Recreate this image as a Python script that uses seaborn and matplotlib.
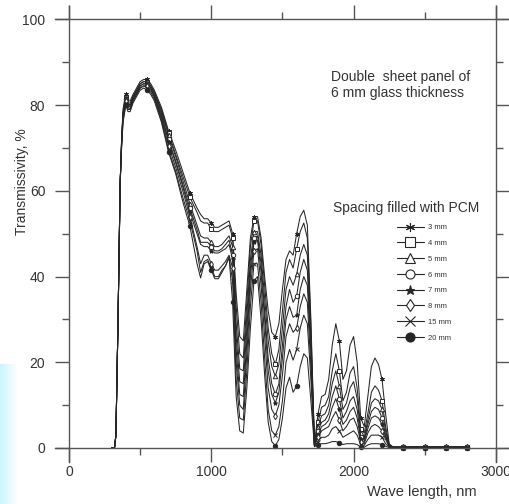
import numpy as np
import pandas as pd
import seaborn as sns
import matplotlib.pyplot as plt
from matplotlib.lines import Line2D
from matplotlib.ticker import MultipleLocator

# wavelength grid, nm
wl = [300, 320, 330, 345, 360, 370, 380, 390, 400, 415,
      430, 450, 475, 500, 525, 550, 575, 600, 650, 700,
      750, 800, 850, 900, 925, 950, 975, 1000, 1025, 1050,
      1075, 1100, 1125, 1150, 1175, 1200, 1225, 1250, 1275, 1300,
      1325, 1350, 1375, 1400, 1425, 1450, 1475, 1500, 1525, 1550,
      1575, 1600, 1625, 1650, 1675, 1700, 1725, 1750, 1775, 1800,
      1825, 1850, 1875, 1900, 1925, 1950, 1975, 2000, 2025, 2050,
      2075, 2100, 2125, 2150, 2175, 2200, 2225, 2250, 2275, 2300,
      2350, 2425, 2500, 2575, 2650, 2725, 2800]

# transmissivity, %
s3 = [0, 0, 3, 30, 62, 72, 79, 81, 82.5, 81,
      81, 82.5, 84, 85.5, 86, 86, 85, 83.5, 79.5, 74,
      69.5, 64.5, 59.5, 56, 54.5, 53.5, 53.5, 52.5, 51.5, 51.5,
      52, 52.5, 53, 50, 36, 26, 25, 37, 49, 54,
      54, 49, 40, 32, 27, 26, 29, 37, 44, 46,
      45, 50, 54, 55.5, 52, 30, 1, 8, 12, 12.5,
      16, 24, 29, 25, 16, 18, 24, 26, 20, 7,
      5, 12, 19, 21, 19.5, 16, 8, 1, 0.3, 0.2,
      0.2, 0.3, 0.2, 0.3, 0.2, 0.3, 0.2]
s4 = [0, 0, 3, 30, 62, 72, 78.5, 80.5, 82, 80.5,
      80.5, 82, 83.5, 85, 85.5, 85.5, 84.5, 83, 79, 73.5,
      68.5, 63.5, 58.5, 55, 53, 52.5, 52.5, 51, 50.5, 50.5,
      51, 51.5, 52, 49, 33, 22, 21, 34, 47, 53,
      53, 47.5, 38, 28, 22, 19.5, 23, 32, 41, 44,
      42, 46.5, 50.5, 52.5, 49, 28, 1, 6, 9.5, 10,
      12, 18, 22, 18, 11, 13, 17.5, 19, 14, 4.5,
      3.5, 8, 13, 14.5, 13.5, 11, 5, 0.8, 0.2, 0.2,
      0.2, 0.2, 0.2, 0.2, 0.2, 0.2, 0.2]
s5 = [0, 0, 3, 30, 62, 71.5, 78, 80, 82, 80.5,
      80, 82, 83.5, 85, 85.5, 85.5, 84.5, 83, 78.5, 73,
      68, 62.5, 57, 52, 49.5, 49, 49, 48, 47, 47,
      47.5, 48.5, 49.5, 47, 29, 18.5, 18, 31, 44, 50.5,
      50.5, 45, 35, 25, 19, 16.8, 19.5, 28, 37, 40,
      38, 40.5, 45, 47.5, 45, 26, 0.8, 5, 7.5, 8,
      10, 15, 18, 14.5, 9, 10.5, 14, 15.5, 11.5, 3.5,
      2.5, 6.5, 10.5, 11.5, 11, 9, 4, 0.6, 0.2, 0.2,
      0.2, 0.2, 0.2, 0.2, 0.2, 0.2, 0.2]
s6 = [0, 0, 3, 30, 62, 71.5, 78, 79.5, 81.5, 80,
      80, 81.5, 83, 84.5, 85, 85, 84, 82.5, 78, 72,
      67, 61.5, 56, 51, 48, 48, 48, 47, 46, 46,
      46.5, 47.5, 48.5, 45, 26, 15.5, 15, 28, 42, 49,
      49.5, 43, 32, 21, 15, 12.5, 15, 24, 33, 37,
      34, 35.5, 41, 44, 41.5, 24, 0.7, 4, 6, 6.5,
      8, 12, 14.5, 11.5, 7, 8.5, 11, 12, 9, 2.5,
      2, 5.5, 8.5, 9.5, 9, 7, 3, 0.5, 0.2, 0.2,
      0.2, 0.2, 0.2, 0.2, 0.2, 0.2, 0.2]
s7 = [0, 0, 3, 30, 62, 71, 77.5, 79, 81.5, 80,
      79.5, 81.5, 83, 84.5, 85, 85, 84, 82, 77.5, 71.5,
      66.5, 61, 55, 50, 47.5, 47, 47, 46, 45.5, 45.5,
      46, 46.5, 47.5, 44, 23, 12.5, 12, 25, 40, 48,
      48.5, 41, 30, 18, 12.5, 10.5, 13, 21, 30, 33,
      30.5, 31, 37, 40, 38, 22, 0.6, 3, 5, 5.5,
      6.5, 9.5, 11.5, 9, 5.5, 6.5, 8.5, 9.5, 7, 2,
      1.5, 4.5, 7, 7.5, 7, 5.5, 2.5, 0.4, 0.2, 0.2,
      0.2, 0.2, 0.2, 0.2, 0.2, 0.2, 0.2]
s8 = [0, 0, 3, 30, 62, 71, 77, 79, 81, 79.5,
      79, 81, 82.5, 84, 84.5, 84.5, 83.5, 82, 77, 70.5,
      65.5, 60, 54, 47, 43, 45, 45, 43, 41.5, 41.5,
      42.5, 43.5, 45, 42, 20, 10, 9, 22, 37, 46,
      46.5, 38, 26, 14, 9, 7.5, 10, 17, 26, 29,
      27, 28, 33, 36, 34, 19, 0.5, 2.5, 4, 4.5,
      5, 7, 8.5, 6.5, 4, 5, 6.5, 7, 5, 1.5,
      1, 3.5, 5, 5.5, 5, 4, 2, 0.3, 0.2, 0.2,
      0.2, 0.2, 0.2, 0.2, 0.2, 0.2, 0.2]
s15 = [0, 0, 3, 30, 62, 70.5, 76.5, 78.5, 80.5, 79,
       79, 81, 82.5, 84, 84.5, 84, 83, 81.5, 76.5, 69.5,
       64.5, 58.5, 53, 46, 41, 43.5, 44, 42, 40, 40,
       41.5, 42.5, 44.5, 39, 16, 7, 6.5, 18, 33, 43,
       43, 34, 21, 9, 4, 3, 5, 11, 20, 23,
       20.5, 23, 28, 31, 29, 16, 0.4, 1.5, 2.5, 2.5,
       3, 4.5, 5, 4, 2.5, 3, 3.5, 4, 3, 0.8,
       0.6, 2, 3, 3, 3, 2.5, 1, 0.2, 0.1, 0.1,
       0.1, 0.1, 0.1, 0.1, 0.1, 0.1, 0.1]
s20 = [0, 0, 3, 30, 62, 70, 76, 78, 80, 78.5,
       78.5, 80.5, 82, 83.5, 84, 83.5, 82.5, 81, 76, 69,
       64, 57.5, 51.7, 43, 39.7, 43, 43.5, 41.5, 39.5, 39.5,
       41, 42.5, 44.5, 34, 12, 4, 3.5, 14, 28, 39,
       40, 30, 17, 6, 1.5, 0.5, 2, 7, 14, 16.5,
       13, 14.5, 19, 22, 21, 11, 0.3, 0.8, 1, 1,
       1.2, 1.5, 1.5, 1.2, 0.8, 1, 1, 1, 0.8, 0.2,
       0.2, 0.7, 1, 1, 1, 0.8, 0.4, 0.1, 0.1, 0.1,
       0.1, 0.1, 0.1, 0.1, 0.1, 0.1, 0.1]

labels = ['3 mm', '4 mm', '5 mm', '6 mm', '7 mm', '8 mm', '15 mm', '20 mm']
series = [s3, s4, s5, s6, s7, s8, s15, s20]
# wavelengths where the symbols sit
marker_wl = [400, 550, 700, 850, 1000, 1150, 1300, 1450, 1600,
             1750, 1900, 2050, 2200, 2350, 2500, 2650, 2800]

ink = '#262626'
grey = '#555555'
txt = '#333333'

# marker style for each spacing
mstyle = {
    '3 mm': dict(marker=(6, 2, 0), markerfacecolor=ink),
    '4 mm': dict(marker='s', markerfacecolor='white'),
    '5 mm': dict(marker='^', markerfacecolor='white'),
    '6 mm': dict(marker='o', markerfacecolor='white'),
    '7 mm': dict(marker='*', markerfacecolor=ink),
    '8 mm': dict(marker='d', markerfacecolor='white'),
    '15 mm': dict(marker='x', markerfacecolor=ink),
    '20 mm': dict(marker='o', markerfacecolor=ink),
}

sns.set_style('white')
plt.rcParams['font.family'] = ['Liberation Sans', 'DejaVu Sans']

fig = plt.figure(figsize=(5.1, 5.04), dpi=100)
ax = fig.add_axes([55 / 510, 42 / 504, 455 / 510, 456 / 504])

idx = [wl.index(w) for w in marker_wl]
for lab, vals in zip(labels, series):
    df = pd.DataFrame({'wl': wl, 'T': vals})
    sns.lineplot(data=df, x='wl', y='T', ax=ax, color=ink, linewidth=0.75,
                 markevery=idx, markersize=3.2, markeredgecolor=ink,
                 markeredgewidth=0.7, legend=False, **mstyle[lab])

ax.set_xlim(-98, 3099)
ax.set_ylim(-3.27, 103.15)
ax.spines['left'].set_position(('data', 0))
ax.spines['bottom'].set_position(('data', 0))
ax.spines['right'].set_position(('data', 3000))
ax.spines['top'].set_position(('data', 100))
for sp in ax.spines.values():
    sp.set_color(grey)
    sp.set_linewidth(1.0)
    sp.set_visible(True)

ax.xaxis.set_major_locator(MultipleLocator(1000))
ax.xaxis.set_minor_locator(MultipleLocator(500))
ax.yaxis.set_major_locator(MultipleLocator(20))
ax.yaxis.set_minor_locator(MultipleLocator(10))
ax.tick_params(which='both', direction='out', top=True, right=True,
               bottom=True, left=True, labeltop=False, labelright=False,
               color=grey, width=1.0, labelcolor=txt, labelsize=10)
ax.tick_params(which='major', length=10)
ax.tick_params(which='minor', length=5)
ax.tick_params(axis='y', which='major', pad=7)
ax.tick_params(axis='x', which='major', pad=2.5)

ax.set_xlabel('Wave length, nm', fontsize=10.5, color=txt, va='center')
ax.xaxis.set_label_coords(422 / 510, 1 - 492 / 504, transform=fig.transFigure)
ax.set_ylabel('Transmissivity, %', fontsize=10, color=txt, va='center')
ax.yaxis.set_label_coords(22 / 510, 1 - 182 / 504, transform=fig.transFigure)

fig.text(331 / 510, 1 - 77 / 504, 'Double  sheet panel of', fontsize=10,
         color=txt, va='center')
fig.text(331 / 510, 1 - 93 / 504, '6 mm glass thickness', fontsize=10,
         color=txt, va='center')
fig.text(333 / 510, 1 - 208 / 504, 'Spacing filled with PCM', fontsize=10,
         color=txt, va='center')

handles = [Line2D([], [], color=ink, linewidth=0.8, markersize=6.5,
                  markeredgecolor=ink, markeredgewidth=0.8, **mstyle[lab])
           for lab in labels]
ax.legend(handles, labels, loc='upper left', bbox_to_anchor=(397 / 510, 1 - 224 / 504),
          bbox_transform=fig.transFigure, frameon=False, fontsize=5.5,
          handlelength=3.5, handletextpad=0.6, labelspacing=1.1,
          borderpad=0, borderaxespad=0, labelcolor=txt)

# pale cyan band at the lower left corner of the slide
band = fig.add_axes([0, 0, 18 / 510, 140 / 504])
grad = np.linspace(0, 1, 50).reshape(1, -1)
band.imshow(grad, aspect='auto', cmap=sns.blend_palette(['#c8f6ff', '#ffffff'], as_cmap=True))
band.set_axis_off()

fig.savefig('out.png', dpi=100)
